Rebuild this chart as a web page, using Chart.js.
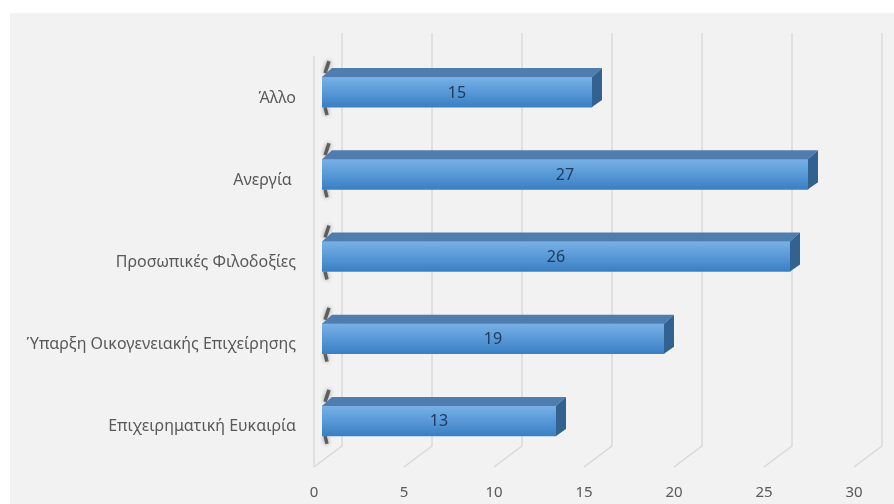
<!DOCTYPE html>
<html>
<head>
<meta charset="utf-8">
<script src="https://cdn.jsdelivr.net/npm/chart.js@4.4.1/dist/chart.umd.min.js"></script>
<style>
  html, body { margin: 0; padding: 0; background: #ffffff; }
  #wrap { width: 894px; height: 504px; }
</style>
</head>
<body>
<div id="wrap"><canvas id="grafico"></canvas></div>
<script>
// dados
const categorias = ['Άλλο', 'Ανεργία ', 'Προσωπικές Φιλοδοξίες', 'Ύπαρξη Οικογενειακής Επιχείρησης', 'Επιχειρηματική Ευκαιρία'];
const valores = [15, 27, 26, 19, 13];
const eixoMin = 0, eixoMax = 30, eixoPasso = 5;

const FONTE = '"Noto Sans", "DejaVu Sans", sans-serif';
const ESPESSURA = 30, PROF_X = 10, PROF_Y = 9;

// fundo cinza
const pluginFundo = {
    id: 'fundo',
    beforeDraw(chart) {
        const { ctx } = chart;
        ctx.save();
        ctx.fillStyle = '#ffffff';
        ctx.fillRect(0, 0, chart.width, chart.height);
        ctx.fillStyle = '#f2f2f2';
        ctx.fillRect(10, 13, chart.width - 10, chart.height - 13);
        ctx.restore();
    }
};

// grade em perspectiva + sombra na ponta esquerda das barras
const pluginGrade3D = {
    id: 'grade3d',
    beforeDatasetsDraw(chart) {
        const { ctx, chartArea, scales } = chart;
        const sx = scales.x;
        const yFrente = chartArea.bottom + 5, yFundo = chartArea.bottom - 16, yTopo = chartArea.top - 18;
        ctx.save();
        ctx.strokeStyle = '#d6d6d6';
        ctx.lineWidth = 1.3;
        for (let v = eixoMin; v <= eixoMax; v += eixoPasso) {
            const fx = sx.getPixelForValue(v) - 8;
            ctx.beginPath();
            ctx.moveTo(fx, yFrente);
            ctx.lineTo(fx + 28, yFundo);
            ctx.lineTo(fx + 28, yTopo);
            ctx.stroke();
        }
        const x0 = sx.getPixelForValue(0) - 8;
        ctx.beginPath();
        ctx.moveTo(x0, yFrente);
        ctx.lineTo(x0, chartArea.top + 5);
        ctx.stroke();

        // sombra escura na ponta esquerda
        const meta = chart.getDatasetMeta(0);
        ctx.strokeStyle = 'rgba(60,60,60,0.75)';
        ctx.lineWidth = 3.5;
        ctx.shadowColor = 'rgba(0,0,0,0.5)';
        ctx.shadowBlur = 4;
        meta.data.forEach(el => {
            const topo = el.y - ESPESSURA / 2, base = el.y + ESPESSURA / 2;
            ctx.beginPath();
            ctx.moveTo(el.base + 7, topo - 16);
            ctx.lineTo(el.base + 3, topo - 4);
            ctx.stroke();
            ctx.beginPath();
            ctx.moveTo(el.base + 3, base);
            ctx.lineTo(el.base + 5, base + 8);
            ctx.stroke();
        });
        ctx.restore();
    },
    afterDatasetsDraw(chart) {
        const { ctx } = chart;
        const meta = chart.getDatasetMeta(0);
        ctx.save();
        meta.data.forEach((el, i) => {
            const topo = el.y - ESPESSURA / 2, base = el.y + ESPESSURA / 2;
            // face de cima
            ctx.fillStyle = '#4f7db0';
            ctx.beginPath();
            ctx.moveTo(el.base, topo);
            ctx.lineTo(el.base + PROF_X, topo - PROF_Y);
            ctx.lineTo(el.x + PROF_X, topo - PROF_Y);
            ctx.lineTo(el.x, topo);
            ctx.closePath();
            ctx.fill();
            // face lateral
            ctx.fillStyle = '#32628f';
            ctx.beginPath();
            ctx.moveTo(el.x, topo);
            ctx.lineTo(el.x + PROF_X, topo - PROF_Y);
            ctx.lineTo(el.x + PROF_X, base - PROF_Y + 2);
            ctx.lineTo(el.x, base);
            ctx.closePath();
            ctx.fill();
            // rótulo do valor
            ctx.fillStyle = '#203a5c';
            ctx.font = '16px ' + FONTE;
            ctx.textAlign = 'center';
            ctx.textBaseline = 'middle';
            ctx.fillText(String(valores[i]), (el.base + el.x) / 2, el.y + 1);
        });
        ctx.restore();
    }
};

function corFrente(c) {
    const sy = c.chart.scales.y;
    const cy = sy ? sy.getPixelForValue(c.dataIndex) : NaN;
    if (!isFinite(cy)) return '#5597d6';
    const g = c.chart.ctx.createLinearGradient(0, cy - ESPESSURA / 2, 0, cy + ESPESSURA / 2);
    g.addColorStop(0, '#78b1e5');
    g.addColorStop(0.45, '#5b9bd9');
    g.addColorStop(1, '#3a7fc3');
    return g;
}

new Chart(document.getElementById('grafico'), {
    type: 'bar',
    data: {
        labels: categorias,
        datasets: [{
            data: valores,
            backgroundColor: corFrente,
            borderWidth: 0,
            barThickness: ESPESSURA
        }]
    },
    options: {
        indexAxis: 'y',
        responsive: true,
        maintainAspectRatio: false,
        animation: false,
        layout: { padding: { left: 0, top: 51, right: 32, bottom: 0 } },
        plugins: { legend: { display: false }, tooltip: { enabled: false } },
        scales: {
            x: {
                min: eixoMin, max: eixoMax,
                grid: { display: false, drawTicks: false },
                border: { display: false },
                ticks: { stepSize: eixoPasso, color: '#595959', font: { family: FONTE, size: 15 }, padding: 22, labelOffset: -8 },
                afterFit(s) { s.height = 42; }
            },
            y: {
                grid: { display: false, drawTicks: false },
                border: { display: false },
                ticks: { color: '#595959', font: { family: FONTE, size: 16 }, padding: 26, labelOffset: 6 },
                afterFit(s) { s.width = 322; }
            }
        }
    },
    plugins: [pluginFundo, pluginGrade3D]
});
</script>
</body>
</html>
